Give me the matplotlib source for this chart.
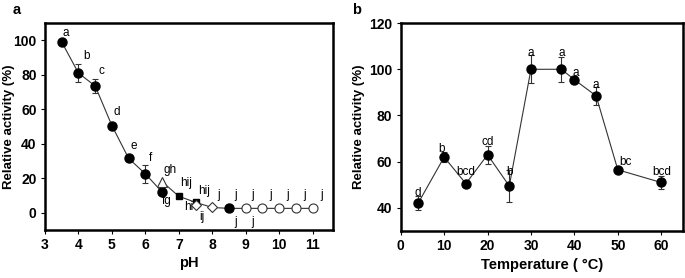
import matplotlib
matplotlib.use('Agg')
import matplotlib.pyplot as plt

plt.rcParams['font.family'] = ['Liberation Sans', 'DejaVu Sans']

# panel a - pH
ph_cit = [3.5, 4, 4.5, 5, 5.5, 6, 6.5]
act_cit = [99, 81, 73.5, 50.5, 31.5, 22.5, 12]
err_cit = [0, 5, 4, 1, 1, 5, 1]
ph_tri = [6.5]
act_tri = [18]
ph_sq = [7, 7.5, 8.5]
act_sq = [9.5, 6, 2.5]
ph_dia = [7.5, 8]
act_dia = [4.5, 3]
ph_fc = [8.5]
act_fc = [2.5]
ph_oc = [9, 9.5, 10, 10.5, 11]
act_oc = [2.5, 2.5, 2.5, 2.5, 2.5]
ph_line2 = [6.5, 7, 7.5, 8, 8.5, 9, 9.5, 10, 10.5, 11]
act_line2 = [18, 9.5, 6, 3, 2.5, 2.5, 2.5, 2.5, 2.5, 2.5]
lab_a = ['a', 'b', 'c', 'd', 'e', 'f', 'gh', 'fg', 'hij', 'hi', 'hij', 'ij',
         'j', 'j', 'j', 'j', 'j', 'j', 'j', 'j', 'j']
lab_a_x = [3.62, 4.23, 4.7, 5.15, 5.66, 6.16, 6.74, 6.64, 7.22, 7.29, 7.76, 7.69,
           8.2, 8.69, 8.69, 9.22, 9.22, 9.74, 10.25, 10.75, 11.28]
lab_a_y = [104.5, 91, 82, 58.5, 38.5, 31.5, 25, 6.5, 17, 3, 12.5, -2.5,
           10, 10, -5.5, 10, -5.5, 10, 10, 10, 10]

# panel b - temperature
temp = [4, 10, 15, 20, 25, 30, 37, 40, 45, 50, 60]
act_t = [42, 62, 50.5, 63, 49.5, 100, 100, 95.5, 88.5, 56.5, 51]
err_t = [3, 2, 1, 4, 7, 6, 5.5, 1.5, 4, 1, 3]
lab_b = ['d', 'b', 'bcd', 'cd', 'b', 'a', 'a', 'a', 'a', 'bc', 'bcd']
lab_b_x = [4, 9.5, 15, 20, 25, 30, 37, 40.3, 45, 51.8, 60]
lab_b_y = [46.5, 65.5, 55.5, 68.5, 55.5, 107, 107, 98.5, 93, 60, 55.5]

fig = plt.figure(figsize=(6.85, 2.78), dpi=100)
ax1 = fig.add_axes([0.0657, 0.173, 0.420, 0.744])
ax2 = fig.add_axes([0.585, 0.169, 0.412, 0.748])

ms = 6.5
ax1.plot(ph_cit, act_cit, '-', color='#333333', lw=0.8, zorder=1)
ax1.plot(ph_line2, act_line2, '-', color='#333333', lw=0.8, zorder=1)
ax1.errorbar(ph_cit, act_cit, yerr=err_cit, fmt='none', ecolor='#333333',
             elinewidth=0.8, capsize=2.5, capthick=0.8, zorder=2)
ax1.plot(ph_cit, act_cit, 'o', color='black', ms=ms, zorder=3)
ax1.plot(ph_tri, act_tri, '^', mfc='white', mec='#333333', mew=0.8, ms=ms, zorder=3)
ax1.plot(ph_sq, act_sq, 's', color='black', ms=5, zorder=3)
ax1.plot(ph_dia, act_dia, 'D', mfc='white', mec='#333333', mew=0.8, ms=5, zorder=4)
ax1.plot(ph_fc, act_fc, 'o', color='black', ms=ms, zorder=3)
ax1.plot(ph_oc, act_oc, 'o', mfc='white', mec='#333333', mew=0.8, ms=ms, zorder=3)
for t, x, y in zip(lab_a, lab_a_x, lab_a_y):
    ax1.text(x, y, t, ha='center', va='center', fontsize=8.5)

ax1.set_xlim(3, 11.6)
ax1.set_ylim(-10, 110)
ax1.set_xticks(range(3, 12))
ax1.set_yticks(range(0, 101, 20))
ax1.set_xlabel('pH', fontsize=10.5, fontweight='bold', labelpad=3)
ax1.set_ylabel('Relative activity (%)', fontsize=9.5, fontweight='bold')
ax1.yaxis.set_label_coords(-0.105, 0.5)

ax2.plot(temp, act_t, '-', color='#333333', lw=0.8, zorder=1)
ax2.errorbar(temp, act_t, yerr=err_t, fmt='none', ecolor='#333333',
             elinewidth=0.8, capsize=2.5, capthick=0.8, zorder=2)
ax2.plot(temp, act_t, 'o', color='black', ms=ms, zorder=3)
for t, x, y in zip(lab_b, lab_b_x, lab_b_y):
    ax2.text(x, y, t, ha='center', va='center', fontsize=8.5)

ax2.set_xlim(0, 65)
ax2.set_ylim(30, 120)
ax2.set_xticks(range(0, 61, 10))
ax2.set_yticks(range(40, 121, 20))
ax2.set_xlabel('Temperature ( °C)', fontsize=10.5, fontweight='bold', labelpad=3)
ax2.set_ylabel('Relative activity (%)', fontsize=9.5, fontweight='bold')
ax2.yaxis.set_label_coords(-0.125, 0.5)

for ax in (ax1, ax2):
    for s in ax.spines.values():
        s.set_linewidth(1.8)
    ax.tick_params(direction='out', length=3, width=0.8, labelsize=10, pad=3)
    for lbl in ax.get_xticklabels() + ax.get_yticklabels():
        lbl.set_fontweight('bold')

fig.text(0.018, 0.965, 'a', fontsize=10.5, fontweight='bold', va='center')
fig.text(0.514, 0.965, 'b', fontsize=10.5, fontweight='bold', va='center')

fig.savefig('out.png', dpi=100)
